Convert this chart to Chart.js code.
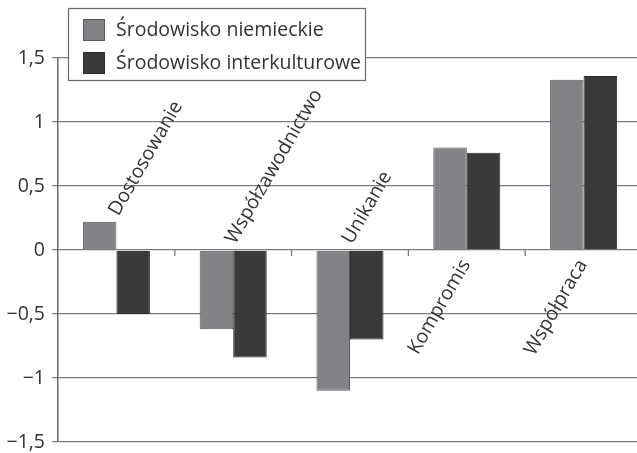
<!DOCTYPE html>
<html>
<head>
<meta charset="utf-8">
<script src="https://cdn.jsdelivr.net/npm/chart.js@4"></script>
<style>
  html, body { margin: 0; padding: 0; background: #fff; overflow: hidden; }
  canvas { display: block; }
</style>
</head>
<body>
<canvas id="chart" width="645" height="453"></canvas>
<script>
// Conflict-handling styles, two working environments
const categories = ['Dostosowanie', 'Współzawodnictwo', 'Unikanie', 'Kompromis', 'Współpraca'];
const seriesNames = ['Środowisko niemieckie', 'Środowisko interkulturowe'];
const niemieckie = [0.22, -0.62, -1.10, 0.80, 1.33];
const interkulturowe = [-0.50, -0.84, -0.70, 0.76, 1.36];
const yTicks = [-1.5, -1, -0.5, 0, 0.5, 1, 1.5];
// where each category name sits relative to the zero line
const labelSide = ['above', 'above', 'above', 'below', 'below'];

const FONT = 'Open Sans';
const FONT_SIZE = 19.5;
const TEXT = '#333333';
const GRID = '#7c7c7c';

const fmt = v => String(v).replace('.', ',').replace('-', '\u2212');

// Rotated category names drawn inside the plot
const categoryNames = {
  id: 'categoryNames',
  afterDatasetsDraw(chart) {
    const { ctx, scales: { x, y } } = chart;
    const zero = y.getPixelForValue(0);
    ctx.save();
    ctx.font = `${FONT_SIZE}px "${FONT}"`;
    ctx.fillStyle = TEXT;
    ctx.textBaseline = 'alphabetic';
    categories.forEach((name, i) => {
      const cx = x.getPixelForValue(i);
      ctx.save();
      if (labelSide[i] === 'above') {
        const top = Math.min(zero, y.getPixelForValue(niemieckie[i]), y.getPixelForValue(interkulturowe[i]));
        ctx.translate(cx + 2, top - 5);
        ctx.rotate(-Math.PI / 3);
        ctx.textAlign = 'left';
      } else {
        ctx.translate(cx + 4, zero + 14);
        ctx.rotate(-Math.PI / 3);
        ctx.textAlign = 'right';
      }
      ctx.fillText(name, 0, 0);
      ctx.restore();
    });
    // short marks between categories on the zero line
    ctx.strokeStyle = GRID;
    ctx.lineWidth = 1.3;
    for (let i = 1; i < categories.length; i++) {
      const bx = (x.getPixelForValue(i - 1) + x.getPixelForValue(i)) / 2;
      ctx.beginPath();
      ctx.moveTo(bx, zero);
      ctx.lineTo(bx, zero + 6);
      ctx.stroke();
    }
    ctx.restore();
  },
  afterDraw(chart) {
    // boxed legend in the upper-left corner
    const { ctx } = chart;
    const bx = 68, by = 8, bw = 297, bh = 72;
    ctx.save();
    ctx.fillStyle = '#ffffff';
    ctx.fillRect(bx, by, bw, bh);
    ctx.strokeStyle = '#6a6a6a';
    ctx.lineWidth = 1.2;
    ctx.strokeRect(bx + 0.5, by + 0.5, bw, bh);
    ctx.font = `${FONT_SIZE}px "${FONT}"`;
    ctx.textBaseline = 'middle';
    ctx.textAlign = 'left';
    chart.data.datasets.forEach((ds, i) => {
      const cy = by + 22 + i * 33;
      ctx.fillStyle = ds.backgroundColor;
      ctx.fillRect(bx + 15, cy - 11, 22, 22);
      ctx.strokeStyle = ds.borderColor;
      ctx.lineWidth = 1;
      ctx.strokeRect(bx + 15.5, cy - 10.5, 21, 21);
      ctx.fillStyle = TEXT;
      ctx.fillText(ds.label, bx + 48, cy);
    });
    ctx.restore();
  }
};

new Chart(document.getElementById('chart'), {
  type: 'bar',
  data: {
    labels: categories,
    datasets: [
      { label: seriesNames[0], data: niemieckie, backgroundColor: '#828387', borderColor: '#58595c', borderWidth: 1 },
      { label: seriesNames[1], data: interkulturowe, backgroundColor: '#3a3a3a', borderColor: '#2a2a2a', borderWidth: 1 }
    ]
  },
  options: {
    responsive: false,
    animation: false,
    devicePixelRatio: 1,
    layout: { padding: { top: 58, right: 3, bottom: 11, left: 0 } },
    datasets: { bar: { categoryPercentage: 0.574, barPercentage: 1 } },
    plugins: { legend: { display: false }, tooltip: { enabled: false } },
    scales: {
      x: { display: false, offset: true },
      y: {
        min: -1.5,
        max: 1.5,
        afterFit(s) { s.width = 58; s.paddingTop = 0; s.paddingBottom = 0; },
        afterBuildTicks(s) { s.ticks = yTicks.map(v => ({ value: v })); },
        ticks: { font: { family: FONT, size: FONT_SIZE }, color: TEXT, padding: 7, callback: v => fmt(v) },
        grid: { color: GRID, lineWidth: 1.3, tickLength: 6, drawTicks: true },
        border: { color: '#6a6a6a', width: 1.5 }
      }
    }
  },
  plugins: [categoryNames]
});
</script>
</body>
</html>
